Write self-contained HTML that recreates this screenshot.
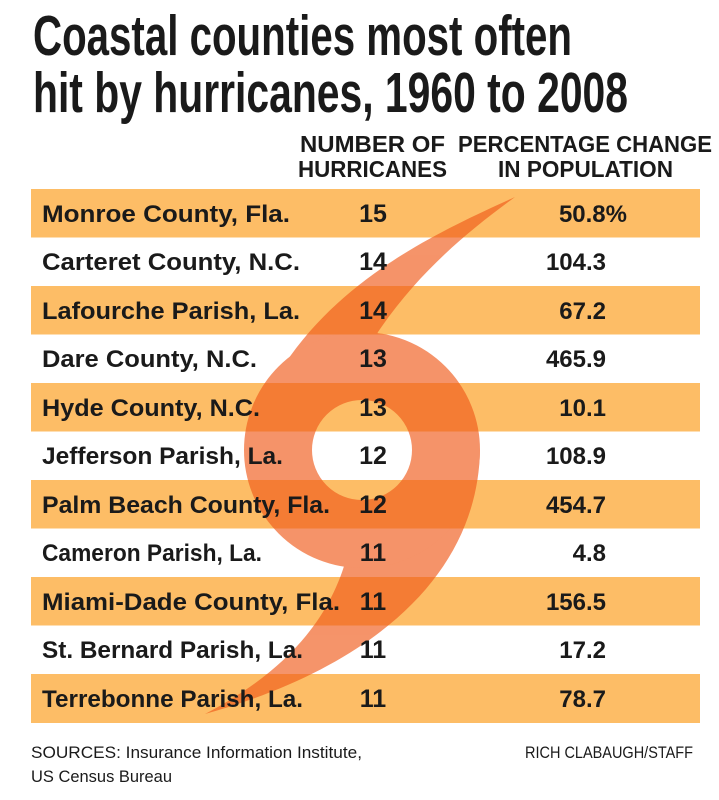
<!DOCTYPE html>
<html><head><meta charset="utf-8"><style>html,body{margin:0;padding:0;background:#fff}svg{display:block}</style></head>
<body>
<svg width="719" height="800" viewBox="0 0 719 800" xmlns="http://www.w3.org/2000/svg" font-family="Liberation Sans, sans-serif" fill="#1a1a1a">
<rect width="719" height="800" fill="#fff"/>
<g fill="#fdbd66">
<rect x="31" y="189" width="669" height="48.5"/>
<rect x="31" y="286" width="669" height="48.5"/>
<rect x="31" y="383" width="669" height="48.5"/>
<rect x="31" y="480" width="669" height="48.5"/>
<rect x="31" y="577" width="669" height="48.5"/>
<rect x="31" y="674" width="669" height="49"/>
</g>
<g opacity="0.65" fill="#f05a1a">
<path d="M515,197 C420,240 290,300 244,450 L278,450 L362,366 L378,332 C420,270 470,230 515,197 Z"/>
<path d="M480,450 C478,570 380,665 205,714 C285,672 330,620 347,556 L362,534 L446,450 Z"/>
<circle cx="362" cy="450" r="84" fill="none" stroke="#f05a1a" stroke-width="68"/>
</g>
<g font-weight="bold">
<text x="33" y="55" font-size="57" textLength="539" lengthAdjust="spacingAndGlyphs">Coastal counties most often</text>
<text x="33" y="112" font-size="57" textLength="595" lengthAdjust="spacingAndGlyphs">hit by hurricanes, 1960 to 2008</text>
<text x="300" y="152" font-size="23" textLength="145" lengthAdjust="spacingAndGlyphs">NUMBER OF</text>
<text x="298" y="177" font-size="23" textLength="149" lengthAdjust="spacingAndGlyphs">HURRICANES</text>
<text x="458" y="152" font-size="23" textLength="254" lengthAdjust="spacingAndGlyphs">PERCENTAGE CHANGE</text>
<text x="498" y="177" font-size="23" textLength="175" lengthAdjust="spacingAndGlyphs">IN POPULATION</text>
</g>
<g font-size="24" font-weight="bold" fill="#1a1a1a">
<text x="42" y="222" textLength="248" lengthAdjust="spacingAndGlyphs">Monroe County, Fla.</text>
<text x="42" y="270" textLength="258" lengthAdjust="spacingAndGlyphs">Carteret County, N.C.</text>
<text x="42" y="319" textLength="258" lengthAdjust="spacingAndGlyphs">Lafourche Parish, La.</text>
<text x="42" y="367" textLength="215" lengthAdjust="spacingAndGlyphs">Dare County, N.C.</text>
<text x="42" y="416" textLength="218" lengthAdjust="spacingAndGlyphs">Hyde County, N.C.</text>
<text x="42" y="464" textLength="241" lengthAdjust="spacingAndGlyphs">Jefferson Parish, La.</text>
<text x="42" y="513" textLength="288" lengthAdjust="spacingAndGlyphs">Palm Beach County, Fla.</text>
<text x="42" y="561" textLength="220" lengthAdjust="spacingAndGlyphs">Cameron Parish, La.</text>
<text x="42" y="610" textLength="298" lengthAdjust="spacingAndGlyphs">Miami-Dade County, Fla.</text>
<text x="42" y="658" textLength="261" lengthAdjust="spacingAndGlyphs">St. Bernard Parish, La.</text>
<text x="42" y="707" textLength="261" lengthAdjust="spacingAndGlyphs">Terrebonne Parish, La.</text>
</g>
<g font-size="25" font-weight="bold" text-anchor="middle">
<text x="373" y="222">15</text><text x="373" y="270">14</text><text x="373" y="319">14</text>
<text x="373" y="367">13</text><text x="373" y="416">13</text><text x="373" y="464">12</text>
<text x="373" y="513">12</text><text x="373" y="561">11</text><text x="373" y="610">11</text>
<text x="373" y="658">11</text><text x="373" y="707">11</text>
</g>
<g font-size="24" font-weight="bold" text-anchor="end">
<text x="627" y="222">50.8%</text><text x="606" y="270">104.3</text><text x="606" y="319">67.2</text>
<text x="606" y="367">465.9</text><text x="606" y="416">10.1</text><text x="606" y="464">108.9</text>
<text x="606" y="513">454.7</text><text x="606" y="561">4.8</text><text x="606" y="610">156.5</text>
<text x="606" y="658">17.2</text><text x="606" y="707">78.7</text>
</g>
<g font-size="17">
<text x="31" y="758" textLength="331" lengthAdjust="spacingAndGlyphs">SOURCES: Insurance Information Institute,</text>
<text x="31" y="782" textLength="141" lengthAdjust="spacingAndGlyphs">US Census Bureau</text>
<text x="525" y="758" textLength="168" lengthAdjust="spacingAndGlyphs">RICH CLABAUGH/STAFF</text>
</g>
</svg>
</body></html>
